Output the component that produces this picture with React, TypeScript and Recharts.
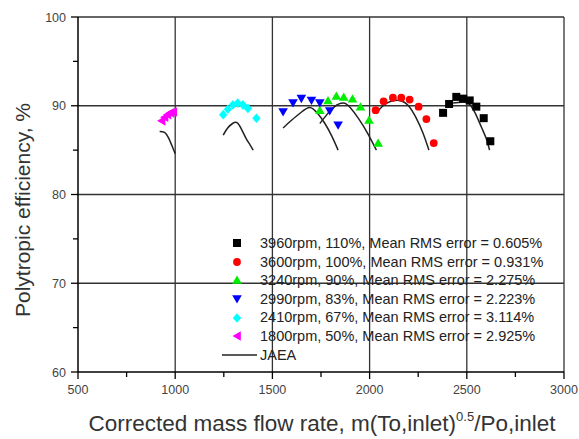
import React from "react";
import { ComposedChart, Scatter, Line, XAxis, YAxis, ReferenceLine, Legend } from "recharts";

// measured points, [flow, efficiency]
const rpm3960 = [[2378, 89.2], [2409, 90.2], [2446, 91.0], [2481, 90.8], [2515, 90.6], [2549, 89.9], [2587, 88.6], [2621, 86.0]];
const rpm3600 = [[2031, 89.5], [2072, 90.5], [2120, 90.9], [2163, 90.9], [2206, 90.7], [2252, 89.9], [2292, 88.5], [2330, 85.8]];
const rpm3240 = [[1744, 89.5], [1786, 90.6], [1829, 91.1], [1867, 91.0], [1912, 90.8], [1953, 89.9], [1997, 88.4], [2044, 85.8]];
const rpm2990 = [[1555, 89.3], [1606, 90.3], [1649, 90.8], [1701, 90.6], [1744, 90.3], [1795, 89.4], [1838, 87.8]];
const rpm2410 = [[1247, 89.0], [1271, 89.6], [1297, 90.1], [1322, 90.3], [1348, 90.1], [1374, 89.7], [1418, 88.6]];
const rpm1800 = [[930, 88.3], [945, 88.7], [960, 89.0], [975, 89.2], [990, 89.3]];

// JAEA predictions
const jaea3960 = [[2430, 90.3], [2470, 90.4], [2506, 90.3], [2540, 89.3], [2575, 87.6], [2600, 86.3], [2617, 85.0]];
const jaea3600 = [[2031, 89.1], [2070, 90.0], [2110, 90.5], [2155, 90.6], [2200, 90.0], [2240, 88.6], [2275, 86.9], [2305, 85.0]];
const jaea3240 = [[1744, 88.0], [1780, 89.0], [1820, 89.9], [1864, 90.3], [1900, 89.8], [1945, 88.5], [1990, 86.9], [2035, 85.0]];
const jaea2990 = [[1555, 87.5], [1600, 88.4], [1650, 89.3], [1692, 89.8], [1730, 89.2], [1770, 88.0], [1805, 86.6], [1838, 85.0]];
const jaea2410 = [[1247, 86.7], [1270, 87.5], [1295, 88.0], [1318, 88.1], [1340, 87.4], [1365, 86.3], [1385, 85.6], [1401, 85.0]];
const jaea1800 = [[920, 87.1], [945, 87.0], [965, 86.4], [985, 85.4], [1000, 84.6]];

const labels = [
  "3960rpm, 110%, Mean RMS error = 0.605%",
  "3600rpm, 100%, Mean RMS error = 0.931%",
  "3240rpm, 90%, Mean RMS error = 2.275%",
  "2990rpm, 83%, Mean RMS error = 2.223%",
  "2410rpm, 67%, Mean RMS error = 3.114%",
  "1800rpm, 50%, Mean RMS error = 2.925%",
];
const colors = ["#000000", "#ff0000", "#00ee00", "#0000ff", "#00ffff", "#ff00ff"];
const shapes = ["square", "circle", "up", "down", "diamond", "left"];

const xTicks = [500, 750, 1000, 1250, 1500, 1750, 2000, 2250, 2500, 2750, 3000];
const yTicks = [60, 65, 70, 75, 80, 85, 90, 95, 100];
const xGrid = [1000, 1500, 2000, 2500, 3000];
const yGrid = [70, 80, 90, 100];

const toPts = (a: number[][]) => a.map(([x, y]) => ({ x, y }));
const measured = [rpm3960, rpm3600, rpm3240, rpm2990, rpm2410, rpm1800].map(toPts);
const jaea = [jaea3960, jaea3600, jaea3240, jaea2990, jaea2410, jaea1800].map(toPts);

const FONT = "'Liberation Sans', Arial, sans-serif";

function Marker({ kind, cx, cy, color }: { kind: string; cx: number; cy: number; color: string }) {
  if (kind === "square") return <rect x={cx - 4} y={cy - 4} width={8} height={8} fill={color} />;
  if (kind === "circle") return <circle cx={cx} cy={cy} r={3.9} fill={color} />;
  let d = "";
  if (kind === "up") d = `M${cx},${cy - 4.5}L${cx + 4.8},${cy + 3.8}L${cx - 4.8},${cy + 3.8}Z`;
  if (kind === "down") d = `M${cx},${cy + 4.5}L${cx + 4.8},${cy - 3.8}L${cx - 4.8},${cy - 3.8}Z`;
  if (kind === "diamond") d = `M${cx},${cy - 4.8}L${cx + 4.2},${cy}L${cx},${cy + 4.8}L${cx - 4.2},${cy}Z`;
  if (kind === "left") d = `M${cx - 4.5},${cy}L${cx + 3.8},${cy - 4.8}L${cx + 3.8},${cy + 4.8}Z`;
  return <path d={d} fill={color} />;
}

const XTick = (props: any) => {
  const { x, y, payload } = props;
  const major = payload.value % 500 === 0;
  return (
    <g>
      <line x1={x} y1={y} x2={x} y2={y + (major ? 7 : 5)} stroke="#000" strokeWidth={1.3} />
      {major && (
        <text x={x} y={y + 22} textAnchor="middle" fontSize={12.5} fill="#444" fontFamily={FONT}>
          {payload.value}
        </text>
      )}
    </g>
  );
};

const YTick = (props: any) => {
  const { x, y, payload } = props;
  const major = payload.value % 10 === 0;
  return (
    <g>
      <line x1={x} y1={y} x2={x - (major ? 7 : 5)} y2={y} stroke="#000" strokeWidth={1.3} />
      {major && (
        <text x={x - 12} y={y + 4.5} textAnchor="end" fontSize={12.5} fill="#444" fontFamily={FONT}>
          {payload.value}
        </text>
      )}
    </g>
  );
};

// inward ticks on the top and right frame
const TopTick = (props: any) => {
  const { x, y, payload } = props;
  const major = payload.value % 500 === 0;
  return <line x1={x} y1={y} x2={x} y2={y + (major ? 7 : 5)} stroke="#000" strokeWidth={1.3} />;
};

const RightTick = (props: any) => {
  const { x, y, payload } = props;
  const major = payload.value % 10 === 0;
  return <line x1={x} y1={y} x2={x - (major ? 7 : 5)} y2={y} stroke="#000" strokeWidth={1.3} />;
};

const YLabel = () => (
  <text
    x={22.5}
    y={210}
    transform="rotate(-90 22.5 210)"
    textAnchor="middle"
    dominantBaseline="central"
    fontSize={21}
    fill="#333"
    fontFamily={FONT}
  >
    Polytropic efficiency, %
  </text>
);

const XLabel = () => (
  <text x={322} y={431} textAnchor="middle" fontSize={22.5} fill="#333" fontFamily={FONT}>
    Corrected mass flow rate, m(To,inlet)
    <tspan fontSize={13} dy={-10}>0.5</tspan>
    <tspan dy={10}>/Po,inlet</tspan>
  </text>
);

const LegendBox = () => (
  <div style={{ fontFamily: FONT, fontSize: 14.5, color: "#222", lineHeight: "18.6px" }}>
    {labels.map((l, i) => (
      <div key={l} style={{ display: "flex", alignItems: "center", height: 18.6 }}>
        <svg width={40} height={18} style={{ flex: "none" }}>
          <Marker kind={shapes[i]} cx={17} cy={9} color={colors[i]} />
        </svg>
        <span style={{ whiteSpace: "nowrap" }}>{l}</span>
      </div>
    ))}
    <div style={{ display: "flex", alignItems: "center", height: 18.6 }}>
      <svg width={40} height={18} style={{ flex: "none" }}>
        <line x1={2} y1={9} x2={37} y2={9} stroke="#222" strokeWidth={1.5} />
      </svg>
      <span>JAEA</span>
    </div>
  </div>
);

export default function App() {
  return (
    <div style={{ position: "absolute", left: 0, top: 0, background: "#fff" }}>
      <ComposedChart width={579} height={439} margin={{ top: 17, right: 15, left: 0, bottom: 0 }}>
        <XAxis
          type="number"
          dataKey="x"
          domain={[500, 3000]}
          ticks={xTicks}
          interval={0}
          allowDataOverflow
          height={67}
          tickLine={false}
          tickSize={0}
          tickMargin={0}
          tick={<XTick />}
          axisLine={{ stroke: "#000", strokeWidth: 1.5 }}
          label={<XLabel />}
        />
        <XAxis
          xAxisId="top"
          orientation="top"
          type="number"
          domain={[500, 3000]}
          ticks={xTicks}
          interval={0}
          height={0}
          tickLine={false}
          tickSize={0}
          tickMargin={0}
          tick={<TopTick />}
          axisLine={{ stroke: "#000", strokeWidth: 1.5 }}
        />
        <YAxis
          type="number"
          dataKey="y"
          domain={[60, 100]}
          ticks={yTicks}
          interval={0}
          allowDataOverflow
          width={78}
          tickLine={false}
          tickSize={0}
          tickMargin={0}
          tick={<YTick />}
          axisLine={{ stroke: "#000", strokeWidth: 1.5 }}
          label={<YLabel />}
        />
        <YAxis
          yAxisId="right"
          orientation="right"
          type="number"
          domain={[60, 100]}
          ticks={yTicks}
          interval={0}
          width={0}
          tickLine={false}
          tickSize={0}
          tickMargin={0}
          tick={<RightTick />}
          axisLine={{ stroke: "#000", strokeWidth: 1.5 }}
        />
        {xGrid.map((v) => (
          <ReferenceLine key={"x" + v} x={v} stroke="#333" strokeWidth={1.3} />
        ))}
        {yGrid.map((v) => (
          <ReferenceLine key={"y" + v} y={v} stroke="#333" strokeWidth={1.3} />
        ))}
        {jaea.map((d, i) => (
          <Line
            key={"j" + i}
            data={d}
            dataKey="y"
            type="natural"
            stroke="#222"
            strokeWidth={1.5}
            dot={false}
            activeDot={false}
            legendType="none"
            isAnimationActive={false}
          />
        ))}
        {measured.map((d, i) => (
          <Scatter
            key={"m" + i}
            name={labels[i]}
            data={d}
            dataKey="y"
            isAnimationActive={false}
            shape={(p: any) => <Marker kind={shapes[i]} cx={p.cx} cy={p.cy} color={colors[i]} />}
          />
        ))}
        <Legend
          layout="horizontal"
          verticalAlign="middle"
          align="center"
          content={() => <LegendBox />}
          wrapperStyle={{ left: 220, top: 234, width: 355, right: "auto", bottom: "auto" }}
        />
      </ComposedChart>
    </div>
  );
}
